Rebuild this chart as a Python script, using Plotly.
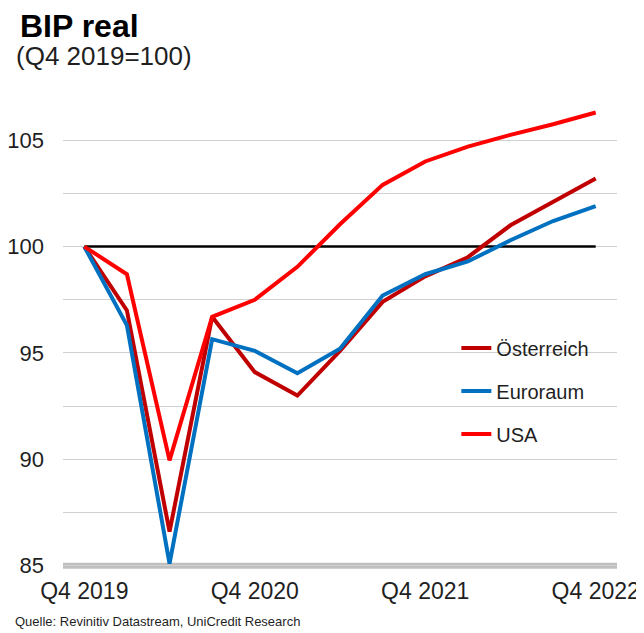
import plotly.graph_objects as go

quarters = ["Q4 2019", "Q1 2020", "Q2 2020", "Q3 2020", "Q4 2020", "Q1 2021", "Q2 2021",
            "Q3 2021", "Q4 2021", "Q1 2022", "Q2 2022", "Q3 2022", "Q4 2022"]
oesterreich = [100.0, 97.0, 86.6, 96.7, 94.1, 93.0, 95.1, 97.4, 98.6, 99.5, 101.0, 102.1, 103.2]
euroraum = [100.0, 96.3, 85.1, 95.65, 95.1, 94.05, 95.2, 97.7, 98.7, 99.3, 100.3, 101.2, 101.9]
usa = [100.0, 98.7, 89.95, 96.7, 97.5, 99.05, 101.05, 102.9, 104.0, 104.7, 105.25, 105.75, 106.3]
baseline = [100.0] * len(quarters)

x_tick_labels = ["Q4 2019", "Q4 2020", "Q4 2021", "Q4 2022"]
y_grid_vals = [85, 87.5, 90, 92.5, 95, 97.5, 100, 102.5, 105, 107.5]
y_tick_text = ["85", "", "90", "", "95", "", "100", "", "105", ""]

xi = list(range(len(quarters)))
x_tick_pos = [quarters.index(q) for q in x_tick_labels]

FONT = "Liberation Sans, Arial, sans-serif"
TXT = "#1f1f1f"

fig = go.Figure()
fig.add_trace(go.Scatter(x=xi, y=baseline, mode="lines", line=dict(color="black", width=2.5),
                         showlegend=False, hoverinfo="skip"))
series = [("Österreich", oesterreich, "#C00000"),
          ("Euroraum", euroraum, "#0070C0"),
          ("USA", usa, "#FF0000")]
for i, (name, vals, col) in enumerate(series):
    fig.add_trace(go.Scatter(x=xi, y=vals, mode="lines", name=name, legendgroup=f"g{i}",
                             line=dict(color=col, width=4)))

fig.add_shape(type="line", xref="paper", x0=0, x1=1, yref="y", y0=85, y1=85,
              line=dict(color="#bfbfbf", width=6), layer="below")

fig.update_layout(
    template="none",
    width=636, height=625,
    margin=dict(l=55, r=27, t=79, b=63, autoexpand=False),
    paper_bgcolor="white", plot_bgcolor="white",
    font=dict(family=FONT, color=TXT, size=22),
    xaxis=dict(range=[-0.5, 12.5], tickvals=x_tick_pos, ticktext=x_tick_labels,
               showgrid=False, zeroline=False, showline=False, ticks="", automargin=False,
               tickfont=dict(size=23, color=TXT), ticklabelstandoff=5),
    yaxis=dict(range=[84.8, 107.5], tickvals=y_grid_vals, ticktext=y_tick_text,
               showgrid=True, gridcolor="#d0d0d0", gridwidth=1.3, zeroline=False,
               showline=False, ticks="", tickfont=dict(size=22, color=TXT), automargin=False,
               ticklabelstandoff=18),
    legend=dict(x=0.71, y=0.5, xanchor="left", yanchor="top",
                font=dict(size=20, color=TXT), bgcolor="rgba(0,0,0,0)",
                traceorder="grouped", tracegroupgap=14, itemwidth=30),
    showlegend=True,
)

fig.add_annotation(text="<b>BIP real</b>", xref="paper", yref="paper", x=-0.081, y=1.126,
                   xanchor="left", yanchor="middle", showarrow=False,
                   font=dict(size=32, color="black", family=FONT))
fig.add_annotation(text="(Q4 2019=100)", xref="paper", yref="paper", x=-0.088, y=1.064,
                   xanchor="left", yanchor="middle", showarrow=False,
                   font=dict(size=26, color=TXT, family=FONT))
fig.add_annotation(text="Quelle: Revinitiv Datastream, UniCredit Research", xref="paper", yref="paper",
                   x=-0.09, y=-0.1056, xanchor="left", yanchor="middle", showarrow=False,
                   font=dict(size=13, color=TXT, family=FONT))

fig.write_html("out.html")
